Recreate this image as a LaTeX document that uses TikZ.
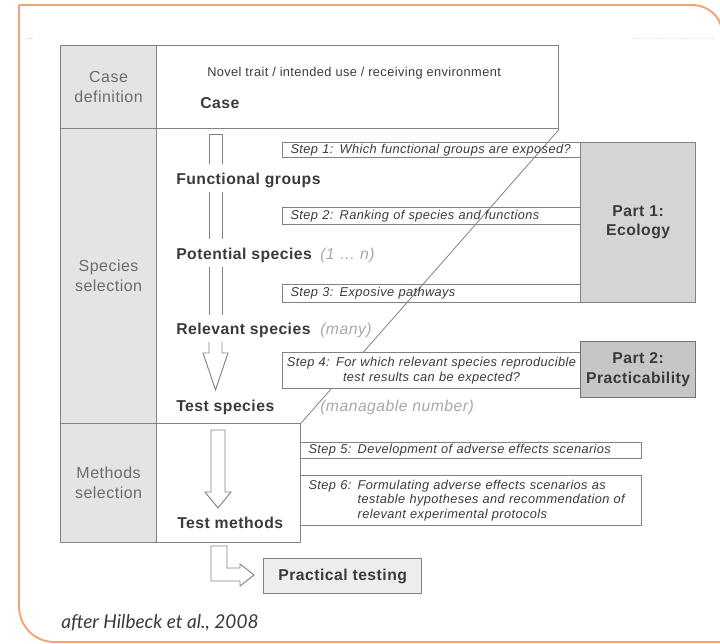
\documentclass[tikz,border=0pt]{standalone}
\usepackage{fontspec}
\setmainfont{Liberation Sans}[LetterSpace=3]
\newfontfamily\notefont{Lato}
\usetikzlibrary{calc}

\definecolor{frameorange}{HTML}{F4A36F}
\definecolor{rulegray}{HTML}{828282}
\definecolor{labelfill}{HTML}{E4E4E4}
\definecolor{partonefill}{HTML}{D5D5D5}
\definecolor{parttwofill}{HTML}{C6C6C6}
\definecolor{testfill}{HTML}{EDEDED}
\definecolor{textdark}{HTML}{3A3A3A}
\definecolor{textgray}{HTML}{6C6C6C}
\definecolor{hintgray}{HTML}{A8A8A8}

\begin{document}
\begin{tikzpicture}[x=0.75pt,y=-0.75pt,
  frame/.style={draw=frameorange, line width=1.4pt},
  cell/.style={draw=rulegray, line width=0.9pt, anchor=north west, inner sep=0pt},
  labelcell/.style={cell, fill=labelfill, minimum width=72pt, align=center,
    text=textgray, font=\fontsize{12}{15}\selectfont},
  stage/.style={anchor=base west, inner sep=0pt, text=textdark,
    font=\bfseries\fontsize{11.8}{14}\selectfont},
  hint/.style={anchor=base west, inner sep=0pt, text=hintgray,
    font=\itshape\fontsize{11.8}{14}\selectfont},
  stepbox/.style={draw=rulegray, line width=0.8pt, anchor=north west,
    inner xsep=6pt, inner ysep=0pt, align=left, text=textdark,
    font=\itshape\fontsize{9.6}{11.2}\selectfont},
  partbox/.style={draw=rulegray, line width=0.9pt, anchor=north west,
    inner sep=0pt, minimum width=86.25pt, align=center, text=textdark,
    font=\bfseries\fontsize{11.8}{14.3}\selectfont},
  blockarrow/.style={draw=rulegray, line width=0.7pt, line join=miter},
]
\useasboundingbox (0,0) rectangle (720,643);

% outer frame, running off the right edge
\begin{scope}
  \clip (0,0) rectangle (720,643);
  \draw[frame] (19,5) -- (692,5) .. controls (708,5) and (722,17) .. (722,33) -- (722,660);
  \draw[frame] (19,5) -- (19,606) .. controls (19,626) and (34,642) .. (55,642) -- (740,642);
\end{scope}
\draw[black!12, line width=0.6pt] (27,38) -- (33,38);
\draw[black!15, line width=0.6pt, dotted] (632,38) -- (712,38);

% left column with the three phases
\node[labelcell, minimum height=62.25pt] (caselbl) at (60,45) {Case\\definition};
\node[labelcell, minimum height=221.25pt] (spclbl) at (60,128) {Species\\selection};
\node[labelcell, minimum height=89.25pt] (mthlbl) at (60,423) {Methods\\selection};

% content cells
\node[cell, minimum width=301.5pt, minimum height=62.25pt] (casebox) at (156,45) {};
\node[cell, minimum width=108pt, minimum height=89.25pt] (mthbox) at (156,423) {};
\draw[rulegray, line width=0.6pt] (casebox.south east) -- (mthbox.north east);

% case row texts
\node[anchor=base west, inner sep=0pt, text=textdark, font=\fontsize{9.6}{11}\selectfont]
  (novel) at (207,76.5) {Novel trait / intended use / receiving environment};
\node[stage] (case) at (200,108.5) {Case};

% stages of species selection
\node[stage] (fg) at (176,184.5) {Functional groups};
\node[stage] (ps) at (176,259.5) {Potential species};
\node[hint]  (psn) at (320,259.5) {(1 … n)};
\node[stage] (rs) at (176,334.5) {Relevant species};
\node[hint]  (rsn) at (320,334.5) {(many)};
\node[stage] (ts) at (176,411.5) {Test species};
\node[hint]  (tsn) at (320,411.5) {(managable number)};
\node[stage] (tm) at (177,528.5) {Test methods};

% step boxes
\node[stepbox, text width=211.5pt, minimum height=11.25pt] (s1) at (282,142)
  {Step 1: Which functional groups are exposed?};
\node[stepbox, text width=211.5pt, minimum height=12.75pt] (s2) at (282,207)
  {Step 2: Ranking of species and functions};
\node[stepbox, text width=211.5pt, minimum height=13.5pt] (s3) at (282,284)
  {Step 3: Exposive pathways};
\node[stepbox, fill=white, inner xsep=1pt, text width=221.5pt, minimum height=27pt,
  align=center, font=\itshape\fontsize{9.6}{11.25}\selectfont] (s4) at (282,352)
  {Step 4: For which relevant species reproducible\\test results can be expected?};
\node[stepbox, text width=243.75pt, minimum height=12pt] (s5) at (300,442)
  {Step 5: Development of adverse effects scenarios};
\node[stepbox, text width=243.75pt, minimum height=37.5pt,
  font=\itshape\fontsize{9.6}{10.9}\selectfont] (s6) at (300,475)
  {Step 6: Formulating adverse effects scenarios as\\
   \phantom{Step 6: }testable hypotheses and recommendation of\\
   \phantom{Step 6: }relevant experimental protocols};

% the two parts
\node[partbox, fill=partonefill, minimum height=120pt] (p1) at (580,142) {Part 1:\\Ecology};
\node[partbox, fill=parttwofill, draw=black!55, minimum height=42pt] (p2) at (580,341) {Part 2:\\Practicability};

% hollow arrow through species selection
\draw[blockarrow] (209,164) -- (209,134) -- (222,134) -- (222,164);
\draw[blockarrow] (209,192) -- (209,239) (222,192) -- (222,239);
\draw[blockarrow] (209,267) -- (209,315) (222,267) -- (222,315);
\draw[blockarrow] (209,342) -- (209,353) -- (203,353) -- (215.5,390) -- (228,353) -- (222,353) -- (222,342);

% hollow arrow through methods selection
\draw[blockarrow] (211,492) -- (211,430) -- (225,430) -- (225,492) -- (231,492)
  -- (218,508) -- (205,492) -- cycle;

% practical testing
\node[draw=rulegray, line width=1pt, fill=testfill, anchor=north west, inner sep=0pt,
  minimum width=118.5pt, minimum height=26.25pt, text=textdark,
  font=\bfseries\fontsize{11.8}{14}\selectfont] (pt) at (263,558) {Practical testing};
\draw[blockarrow] (211,546) -- (227,546) -- (227,568) -- (240,568) -- (240,564)
  -- (254,575) -- (240,586) -- (240,581) -- (211,581) -- cycle;

% source note
\node[anchor=base west, inner sep=0pt, text=textdark,
  font=\notefont\itshape\fontsize{14.3}{16}\selectfont] (cite) at (61,628)
  {after Hilbeck et al., 2008};
\end{tikzpicture}
\end{document}
